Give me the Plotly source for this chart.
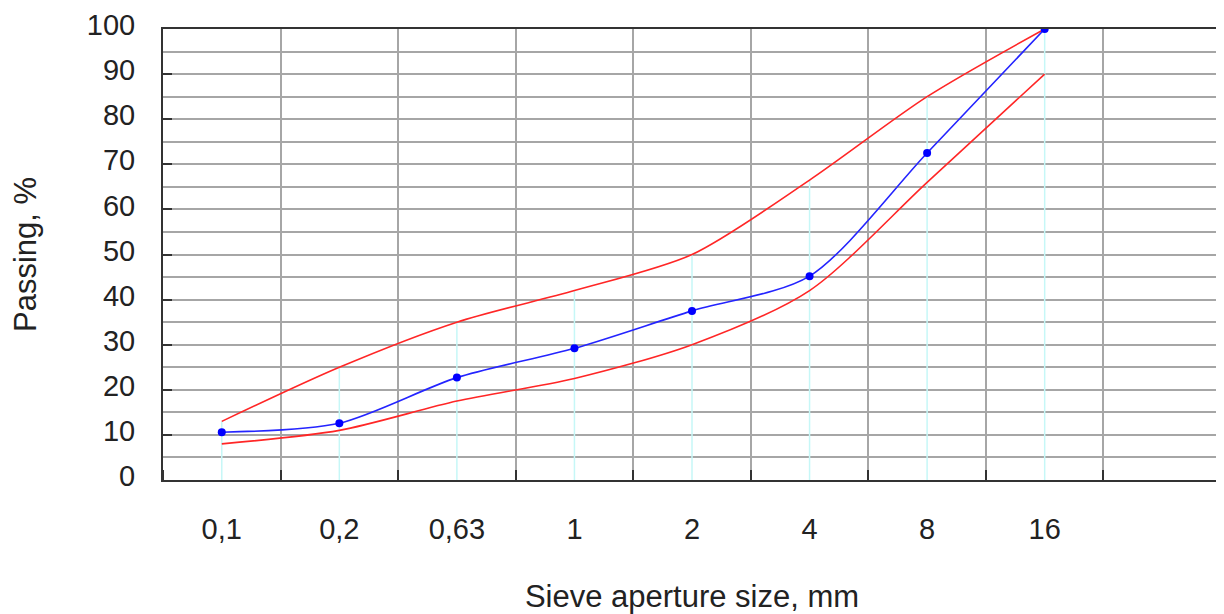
import plotly.graph_objects as go

sizes = ["0,1", "0,2", "0,63", "1", "2", "4", "8", "16"]
upper_limit = [13, 25, 35, 42, 50, 66.5, 85, 100]
lower_limit = [8, 11, 17.5, 22.5, 30, 42, 66, 90]
passing = [10.6, 12.6, 22.7, 29.2, 37.5, 45.2, 72.5, 100]
y_ticks = list(range(0, 101, 10))

xs = list(range(len(sizes)))
boundaries = [i + 0.5 for i in range(-1, len(sizes) + 1)]

FONT = "Liberation Sans, Arial, sans-serif"

fig = go.Figure()

# cyan drop lines from the upper limit to the axis
drop_x, drop_y = [], []
for x, u in zip(xs, upper_limit):
    drop_x += [x, x, None]
    drop_y += [0, u, None]
fig.add_trace(go.Scatter(x=drop_x, y=drop_y, mode="lines",
                         line=dict(color="#c6f7f7", width=1.5),
                         hoverinfo="skip", showlegend=False))

fig.add_trace(go.Scatter(x=xs, y=upper_limit, mode="lines",
                         line=dict(color="#ff2626", width=1.6, shape="spline", smoothing=0.8),
                         showlegend=False))
fig.add_trace(go.Scatter(x=xs, y=lower_limit, mode="lines",
                         line=dict(color="#ff2626", width=1.6, shape="spline", smoothing=0.8),
                         showlegend=False))
fig.add_trace(go.Scatter(x=xs, y=passing, mode="lines+markers",
                         line=dict(color="#2424ff", width=1.6, shape="spline", smoothing=0.8),
                         marker=dict(color="#0000ff", size=8),
                         showlegend=False))

# the page body has an 8px default margin, so the figure is sized to fit the window
fig.update_layout(
    width=1216, height=606,
    margin=dict(l=155, r=3, t=21, b=134),
    paper_bgcolor="white", plot_bgcolor="white",
    font=dict(family=FONT, color="#222222", size=29),
    xaxis=dict(
        range=[-0.5, 8.5], automargin=False,
        tickmode="array", tickvals=xs, ticktext=sizes,
        ticks="", showgrid=False, zeroline=False,
        showline=True, linecolor="#333333", linewidth=2, mirror=True,
        tickfont=dict(size=29, family=FONT, color="#222222"),
        ticklabelstandoff=22,
        minor=dict(tickmode="array", tickvals=boundaries, ticks="inside",
                   ticklen=10, tickwidth=2, tickcolor="#333333",
                   showgrid=True, gridcolor="#a6a6a6", gridwidth=2),
        title=dict(text="Sieve aperture size, mm", standoff=47,
                   font=dict(size=31, family=FONT, color="#222222")),
    ),
    yaxis=dict(
        range=[0, 100], automargin=False,
        tickmode="array", tickvals=y_ticks,
        ticks="inside", ticklen=9, tickwidth=2, tickcolor="#333333",
        showgrid=True, gridcolor="#a6a6a6", gridwidth=2, zeroline=False,
        showline=True, linecolor="#333333", linewidth=2,
        tickfont=dict(size=29, family=FONT, color="#222222"),
        ticklabelstandoff=20,
        ticklabelshift=-4,
        minor=dict(dtick=5, showgrid=True, gridcolor="#a6a6a6", gridwidth=2),
        title=dict(text="Passing, %", standoff=42,
                   font=dict(size=31, family=FONT, color="#222222")),
    ),
)

fig.write_html("out.html")
